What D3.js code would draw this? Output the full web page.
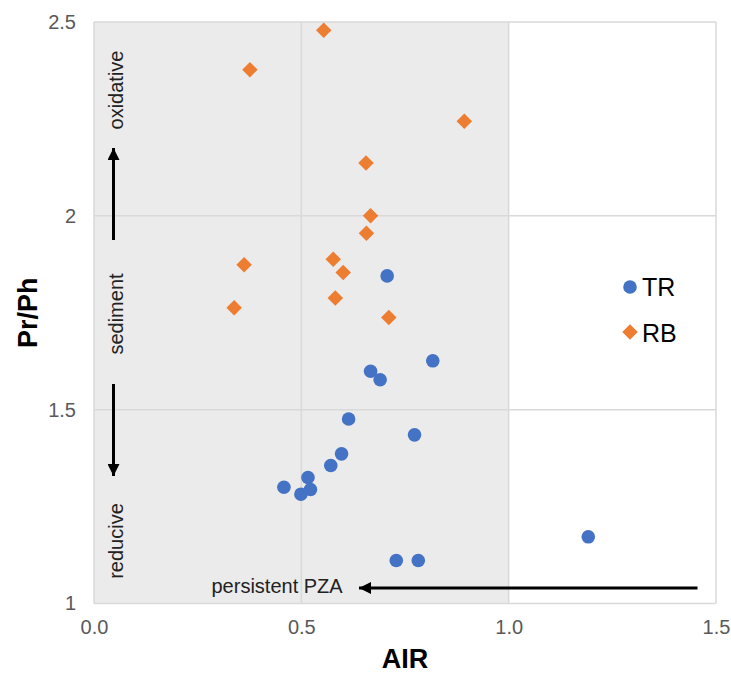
<!DOCTYPE html>
<html>
<head>
<meta charset="utf-8">
<script src="https://cdn.jsdelivr.net/npm/d3@7"></script>
<style>
  html, body { margin: 0; padding: 0; background: #fff; }
  svg { display: block; font-family: "Liberation Sans", Arial, sans-serif; }
</style>
</head>
<body>
<svg id="chart" width="731" height="673"></svg>
<script>
// TR samples (AIR, Pr/Ph)
const trAIR  = [0.707, 0.817, 0.667, 0.690, 0.614, 0.773, 0.597, 0.571, 0.516, 0.458, 0.522, 0.499, 0.729, 0.782, 1.192];
const trPrPh = [1.845, 1.626, 1.599, 1.577, 1.476, 1.435, 1.386, 1.356, 1.325, 1.300, 1.294, 1.282, 1.111, 1.111, 1.172];
// RB samples (AIR, Pr/Ph)
const rbAIR  = [0.554, 0.376, 0.893, 0.656, 0.667, 0.657, 0.577, 0.362, 0.601, 0.582, 0.338, 0.711];
const rbPrPh = [2.479, 2.377, 2.244, 2.136, 2.000, 1.955, 1.888, 1.874, 1.854, 1.788, 1.763, 1.738];

const xTicks = [0, 0.5, 1.0, 1.5];
const yTicks = [1, 1.5, 2, 2.5];
const xTickLabels = ["0.0", "0.5", "1.0", "1.5"];
const yTickLabels = ["1", "1.5", "2", "2.5"];
const seriesNames = ["TR", "RB"];
const shadedAIR = [0, 1.0];

const blue = "#4472C4", orange = "#ED7D31";
const svg = d3.select("#chart");
const plotL = 94, plotR = 716, plotT = 22, plotB = 603.5;

const x = d3.scaleLinear().domain([0, 1.5]).range([plotL, plotR]);
const y = d3.scaleLinear().domain([1, 2.5]).range([plotB, plotT]);

// shaded AIR band
svg.append("rect")
  .attr("x", x(shadedAIR[0])).attr("y", plotT)
  .attr("width", x(shadedAIR[1]) - x(shadedAIR[0])).attr("height", plotB - plotT)
  .attr("fill", "#EBEBEB");

// gridlines
const grid = svg.append("g").attr("stroke", "#D9D9D9").attr("stroke-width", 1.5);
xTicks.forEach(t => grid.append("line").attr("x1", x(t)).attr("x2", x(t)).attr("y1", plotT).attr("y2", plotB));
yTicks.forEach(t => grid.append("line").attr("x1", plotL).attr("x2", plotR).attr("y1", y(t)).attr("y2", y(t)));

// axes (labels only)
const xAxis = svg.append("g").attr("transform", `translate(0,${plotB})`)
  .call(d3.axisBottom(x).tickValues(xTicks).tickFormat((d, i) => xTickLabels[i]).tickSize(0).tickPadding(16));
xAxis.select(".domain").remove();
xAxis.selectAll("text").attr("font-size", 20).attr("fill", "#595959").attr("font-family", "Liberation Sans, Arial, sans-serif");

const yAxis = svg.append("g").attr("transform", `translate(${plotL},0)`)
  .call(d3.axisLeft(y).tickValues(yTicks).tickFormat((d, i) => yTickLabels[i]).tickSize(0).tickPadding(18));
yAxis.select(".domain").remove();
yAxis.selectAll("text").attr("font-size", 20).attr("fill", "#595959").attr("font-family", "Liberation Sans, Arial, sans-serif");

// axis titles
svg.append("text").attr("x", (plotL + plotR) / 2).attr("y", 668)
  .attr("text-anchor", "middle").attr("font-size", 27).attr("font-weight", "bold").attr("fill", "#000").text("AIR");
svg.append("text").attr("transform", `translate(37,${(plotT + plotB) / 2}) rotate(-90)`)
  .attr("text-anchor", "middle").attr("font-size", 27).attr("font-weight", "bold").attr("fill", "#000").text("Pr/Ph");

// annotations
const ann = svg.append("g").attr("fill", "#222").attr("font-size", 20);
[["oxidative", 90], ["sediment", 314], ["reducive", 541]].forEach(([t, cy]) => {
  ann.append("text").attr("transform", `translate(122.5,${cy}) rotate(-90)`).attr("text-anchor", "middle").text(t);
});
ann.append("text").attr("x", 211.5).attr("y", 593).text("persistent PZA");

const defs = svg.append("defs");
defs.append("marker").attr("id", "ah").attr("viewBox", "0 0 12 12").attr("refX", 12).attr("refY", 6)
  .attr("markerWidth", 12).attr("markerHeight", 12).attr("markerUnits", "userSpaceOnUse").attr("orient", "auto")
  .append("path").attr("d", "M0,0 L12,6 L0,12 Z").attr("fill", "#000");

const arrows = svg.append("g").attr("stroke", "#000").attr("stroke-width", 3);
arrows.append("line").attr("x1", 113.5).attr("y1", 240).attr("x2", 113.5).attr("y2", 148).attr("marker-end", "url(#ah)");
arrows.append("line").attr("x1", 113.5).attr("y1", 384).attr("x2", 113.5).attr("y2", 476).attr("marker-end", "url(#ah)");
arrows.append("line").attr("x1", 697.5).attr("y1", 588).attr("x2", 359).attr("y2", 588).attr("marker-end", "url(#ah)");

// markers
const diamond = d3.symbol().type(d3.symbolSquare).size(120);
const tr = trAIR.map((v, i) => ({ x: v, y: trPrPh[i] }));
const rb = rbAIR.map((v, i) => ({ x: v, y: rbPrPh[i] }));

svg.append("g").selectAll("path").data(rb).join("path")
  .attr("d", diamond)
  .attr("transform", d => `translate(${x(d.x)},${y(d.y)}) rotate(45)`)
  .attr("fill", orange);

svg.append("g").selectAll("circle").data(tr).join("circle")
  .attr("cx", d => x(d.x)).attr("cy", d => y(d.y)).attr("r", 6.8)
  .attr("fill", blue);

// legend
const lg = svg.append("g");
lg.append("circle").attr("cx", 630).attr("cy", 287).attr("r", 6.8).attr("fill", blue);
lg.append("path").attr("d", diamond).attr("transform", "translate(630,332) rotate(45)").attr("fill", orange);
lg.append("text").attr("x", 642).attr("y", 296).attr("font-size", 25).attr("fill", "#000").text(seriesNames[0]);
lg.append("text").attr("x", 642).attr("y", 341.5).attr("font-size", 25).attr("fill", "#000").text(seriesNames[1]);
</script>
</body>
</html>
